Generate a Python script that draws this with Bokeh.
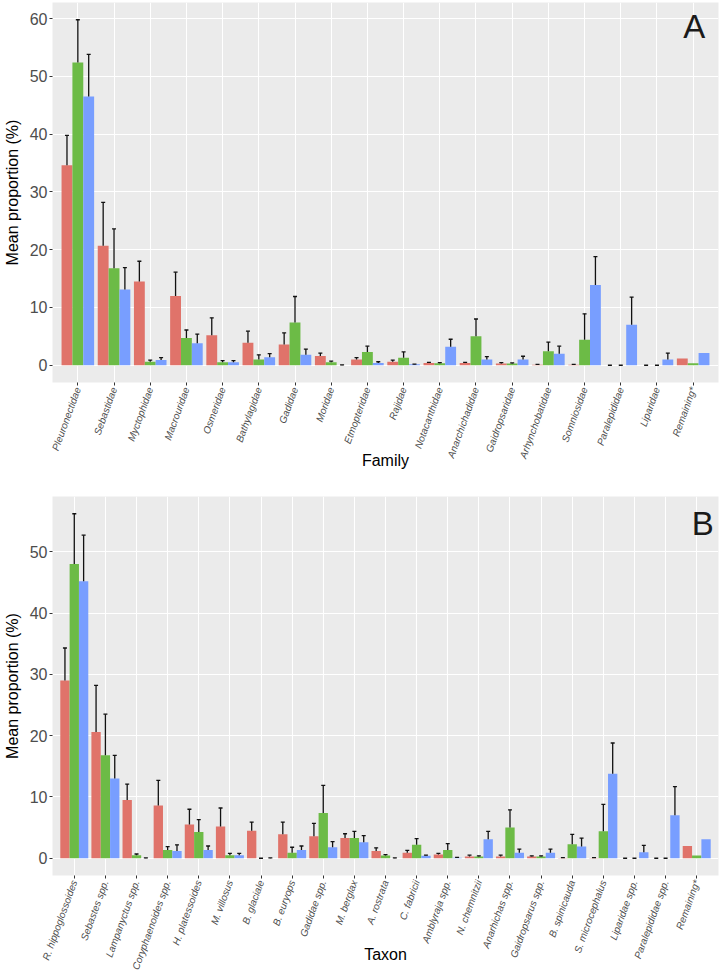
import math
import numpy as np
from bokeh.plotting import figure
from bokeh.models import ColumnDataSource, FixedTicker, Range1d, FactorRange
from bokeh.transform import dodge
from bokeh.layouts import column
from bokeh.embed import file_html
from bokeh.resources import INLINE
from bokeh.core.properties import value

nan = float("nan")

# ---------------- Panel A: Family ----------------
families = ["Pleuronectidae", "Sebastidae", "Myctophidae", "Macrouridae", "Osmeridae",
            "Bathylagidae", "Gadidae", "Moridae", "Etmopteridae", "Rajidae",
            "Notacanthidae", "Anarchichadidae", "Gaidropsaridae", "Arhynchobatidae",
            "Somniosidae", "Paralepididae", "Liparidae", "Remaining*"]
fam_g1_mean = [34.6, 20.7, 14.5, 12.0, 5.2, 3.9, 3.6, 1.6, 1.0, 0.6, 0.4, 0.4, 0.3, 0.1, 0.1, 0.0, 0.0, 1.15]
fam_g1_se   = [5.2, 7.5, 3.5, 4.1, 3.0, 2.0, 2.0, 0.5, 0.3, 0.3, 0.1, 0.1, 0.15, 0.05, 0.05, 0.0, 0.0, nan]
fam_g2_mean = [52.4, 16.8, 0.6, 4.7, 0.5, 1.0, 7.4, 0.5, 2.3, 1.3, 0.35, 5.0, 0.3, 2.4, 4.4, 0.0, 0.0, 0.35]
fam_g2_se   = [7.4, 6.8, 0.3, 1.4, 0.3, 0.8, 4.5, 0.2, 1.0, 1.0, 0.1, 3.0, 0.1, 1.6, 4.5, 0.0, 0.0, nan]
fam_g3_mean = [46.5, 13.1, 0.9, 3.8, 0.5, 1.4, 1.8, 0.0, 0.4, 0.15, 3.2, 1.0, 1.0, 2.0, 13.9, 7.0, 1.0, 2.1]
fam_g3_se   = [7.3, 3.8, 0.4, 1.6, 0.3, 0.6, 1.0, 0.05, 0.2, 0.05, 1.3, 0.5, 0.55, 1.3, 4.9, 4.8, 1.1, nan]

# ---------------- Panel B: Taxon ----------------
taxa = ["R. hippoglossoides", "Sebastes spp.", "Lampanyctus spp.", "Coryphaenoides spp.",
        "H. platessoides", "M. villosus", "B. glaciale", "B. euryops", "Gadidae spp.",
        "M. berglax", "A. rostrata", "C. fabricii", "Amblyraja spp.", "N. chemnitzii",
        "Anarhichas spp.", "Gaidropsarus spp.", "B. spinicauda", "S. microcephalus",
        "Liparidae spp.", "Paralepididae spp.", "Remaining*"]
tax_g1_mean = [29.0, 20.6, 9.5, 8.6, 5.5, 5.2, 4.5, 3.9, 3.6, 3.3, 1.2, 0.9, 0.6, 0.3, 0.3, 0.27, 0.05, 0.05, 0.0, 0.0, 2.0]
tax_g1_se   = [5.3, 7.6, 2.6, 4.1, 2.5, 3.0, 1.4, 2.0, 2.1, 0.7, 0.5, 0.4, 0.2, 0.2, 0.2, 0.13, 0.05, 0.05, 0.0, 0.0, nan]
tax_g2_mean = [48.0, 16.8, 0.5, 1.35, 4.3, 0.5, 0.0, 0.9, 7.4, 3.3, 0.45, 2.2, 1.35, 0.3, 5.0, 0.27, 2.3, 4.4, 0.0, 0.0, 0.45]
tax_g2_se   = [8.2, 6.7, 0.2, 0.55, 2.0, 0.3, 0.0, 0.9, 4.5, 1.1, 0.15, 1.0, 1.05, 0.1, 2.9, 0.13, 1.6, 4.4, 0.0, 0.0, nan]
tax_g3_mean = [45.2, 13.0, 0.0, 1.2, 1.35, 0.5, 0.0, 1.35, 1.8, 2.6, 0.0, 0.4, 0.1, 3.1, 0.9, 0.9, 1.9, 13.8, 1.0, 7.0, 3.1]
tax_g3_se   = [7.5, 3.8, 0.05, 1.0, 0.65, 0.3, 0.05, 0.65, 0.9, 1.1, 0.05, 0.1, 0.05, 1.3, 0.6, 0.6, 1.4, 5.0, 1.1, 4.7, nan]

y_ticks_a = [0, 10, 20, 30, 40, 50, 60]
y_ticks_b = [0, 10, 20, 30, 40, 50]

COLORS = ["#E0736A", "#6CBB46", "#789EFF"]
FONT = "Liberation Sans"


def make_panel(cats, means, ses, letter, xtitle, yticks, frame_h, min_top, min_bottom,
               title_standoff, letter_dx, letter_dy):
    data = {"cat": cats}
    for i, (m, s) in enumerate(zip(means, ses)):
        m = np.array(m, dtype=float)
        s = np.array(s, dtype=float)
        data[f"m{i}"] = m
        data[f"t{i}"] = m + s
    src = ColumnDataSource(data)
    ymax = float(np.nanmax([np.nanmax(np.array(m) + np.array(s)) for m, s in zip(means, ses)]))
    p = figure(x_range=FactorRange(*cats, range_padding=0.2, range_padding_units="absolute"),
               y_range=Range1d(-0.05 * ymax, 1.05 * ymax),
               frame_width=666, frame_height=frame_h,
               min_border_left=46, min_border_right=4,
               min_border_top=min_top, min_border_bottom=min_bottom,
               output_backend="svg", toolbar_location=None,
               background_fill_color="#EBEBEB", border_fill_color="white")
    p.outline_line_color = None
    offsets = [-0.3, 0.0, 0.3]
    for i in range(3):
        xs = dodge("cat", offsets[i], range=p.x_range)
        p.vbar(x=xs, top=f"m{i}", bottom=0, width=0.3, source=src,
               fill_color=COLORS[i], line_color=None)
    for i in range(3):
        xs = dodge("cat", offsets[i], range=p.x_range)
        p.segment(x0=xs, x1=xs, y0=f"m{i}", y1=f"t{i}", source=src,
                  line_color="#111111", line_width=1.3)
        p.scatter(x=xs, y=f"t{i}", source=src, marker="dash", size=4,
                  line_color="#111111", line_width=1.3)

    p.text(x=[cats[-1]], y=[0.935 * 1.05 * ymax], text=[letter],
           x_offset=letter_dx, y_offset=letter_dy,
           text_font=value(FONT), text_font_size="33px", text_color="#1A1A1A",
           text_align="center", text_baseline="middle")

    p.xgrid.grid_line_color = "white"
    p.ygrid.grid_line_color = "white"
    p.xgrid.grid_line_width = 1.1
    p.ygrid.grid_line_width = 1.1
    p.yaxis.ticker = FixedTicker(ticks=yticks)
    for ax in (p.xaxis[0], p.yaxis[0]):
        ax.axis_line_color = None
        ax.major_tick_line_color = "#333333"
        ax.major_tick_in = 0
        ax.major_tick_out = 3
        ax.minor_tick_line_color = None
        ax.major_label_text_color = "#4D4D4D"
        ax.major_label_text_font = FONT
        ax.axis_label_text_font = FONT
        ax.axis_label_text_font_style = "normal"
        ax.axis_label_text_color = "black"
        ax.axis_label_text_font_size = "16px"
    p.yaxis.axis_label = "Mean proportion (%)"
    p.yaxis.major_label_text_font_size = "16px"
    p.yaxis.major_label_standoff = 2
    p.yaxis.axis_label_standoff = 6
    p.xaxis.axis_label = xtitle
    p.xaxis.major_label_text_font_size = "10px"
    p.xaxis.major_label_text_font_style = "italic"
    p.xaxis.major_label_orientation = math.radians(70)
    p.xaxis.major_label_standoff = 2
    p.xaxis.axis_label_standoff = title_standoff
    return p


pA = make_panel(families, [fam_g1_mean, fam_g2_mean, fam_g3_mean],
                [fam_g1_se, fam_g2_se, fam_g3_se], "A", "Family", y_ticks_a,
                380, 2, 106, -13, 1, 0)
pB = make_panel(taxa, [tax_g1_mean, tax_g2_mean, tax_g3_mean],
                [tax_g1_se, tax_g2_se, tax_g3_se], "B", "Taxon", y_ticks_b,
                379, 8, 99, -30, 6, 3)

layout = column(pA, pB, spacing=0)
open("out.html", "w").write(file_html(layout, INLINE))
